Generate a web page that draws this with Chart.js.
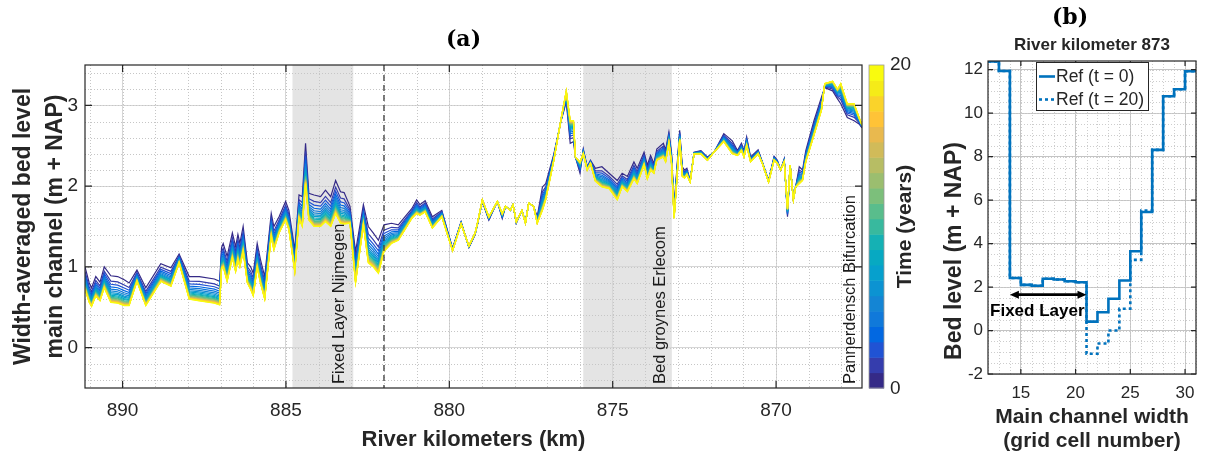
<!DOCTYPE html>
<html>
<head>
<meta charset="utf-8">
<title>Bed level development</title>
<script src="https://cdn.jsdelivr.net/npm/chart.js@4.4.1/dist/chart.umd.min.js"></script>
<style>
  html, body { margin: 0; padding: 0; background: #fff; }
  body { position: relative; width: 1205px; height: 454px; overflow: hidden; }
  #profileChart { position: absolute; left: 0; top: 0; }
  #sectionChart { position: absolute; left: 930px; top: 0; }
</style>
</head>
<body>
<canvas id="profileChart" width="930" height="454"></canvas>
<canvas id="sectionChart" width="275" height="454"></canvas>
<script>
// ---- (a) longitudinal profile ----
// stations along the river (km) with width-averaged bed level at t = 0 and t = 20 years
const riverKm = [
  891.15, 891.02, 890.95, 890.82, 890.69, 890.56, 890.36, 890.15, 889.95, 889.80,
  889.56, 889.29, 888.83, 888.52, 888.27, 887.96, 887.65, 887.19, 887.03, 886.97,
  886.92, 886.80, 886.64, 886.54, 886.47, 886.41, 886.31, 886.18, 886.08, 886.00,
  885.88, 885.78, 885.65, 885.45, 885.37, 885.21, 885.01, 884.91, 884.73, 884.60,
  884.50, 884.40, 884.30, 884.14, 883.94, 883.79, 883.63, 883.48, 883.33, 883.22,
  883.04, 882.87, 882.63, 882.48, 882.33, 882.17, 882.00, 881.77, 881.56, 881.36,
  881.15, 881.00, 880.90, 880.74, 880.52, 880.23, 879.90, 879.64, 879.40, 879.21,
  879.14, 878.99, 878.79, 878.53, 878.38, 878.28, 878.13, 878.05, 877.95, 877.78,
  877.67, 877.57, 877.42, 877.31, 877.15, 877.05, 876.80, 876.58, 876.42, 876.30,
  876.20, 876.14, 876.00, 875.90, 875.78, 875.68, 875.53, 875.33, 875.11, 874.86,
  874.71, 874.55, 874.35, 874.25, 874.04, 873.94, 873.84, 873.74, 873.65, 873.45,
  873.38, 873.28, 873.20, 873.12, 872.95, 872.87, 872.80, 872.73, 872.63, 872.51,
  872.30, 872.10, 871.90, 871.60, 871.34, 871.18, 871.06, 870.98, 870.90, 870.78,
  870.55, 870.42, 870.23, 870.06, 869.96, 869.86, 869.75, 869.65, 869.57, 869.47,
  869.40, 869.29, 869.19, 869.09, 868.84, 868.61, 868.51, 868.27, 868.12, 868.02,
  867.82, 867.61, 867.46, 867.37
];
const bedLevelT0 = [
  1.00, 0.80, 0.74, 0.88, 0.81, 1.00, 0.89, 0.88, 0.84, 0.80,
  0.96, 0.74, 1.04, 0.99, 1.16, 0.88, 0.88, 0.85, 0.82, 1.24,
  1.29, 1.13, 1.42, 1.25, 1.40, 1.29, 1.50, 1.05, 1.00, 0.92,
  1.29, 1.09, 0.88, 1.66, 1.50, 1.62, 1.81, 1.70, 1.21, 1.89,
  1.87, 2.53, 1.91, 1.89, 1.87, 1.95, 1.87, 2.07, 1.93, 1.92,
  1.75, 1.19, 1.77, 1.50, 1.42, 1.33, 1.52, 1.54, 1.52, 1.62,
  1.72, 1.83, 1.77, 1.82, 1.62, 1.70, 1.23, 1.56, 1.24, 1.40,
  1.52, 1.81, 1.58, 1.81, 1.60, 1.75, 1.70, 1.77, 1.54, 1.70,
  1.56, 1.79, 1.75, 1.62, 1.99, 2.03, 2.40, 2.81, 3.04, 2.53,
  2.55, 2.36, 2.16, 2.46, 2.24, 2.32, 2.22, 2.24, 2.16, 2.07,
  2.16, 2.12, 2.30, 2.22, 2.42, 2.26, 2.38, 2.28, 2.46, 2.53,
  2.45, 2.67, 2.42, 1.75, 2.69, 2.24, 2.20, 2.22, 2.07, 2.42,
  2.44, 2.36, 2.42, 2.65, 2.56, 2.44, 2.53, 2.44, 2.61, 2.36,
  2.45, 2.30, 2.07, 2.37, 2.32, 2.20, 2.34, 1.62, 2.26, 1.85,
  1.99, 2.24, 2.20, 2.44, 2.81, 3.10, 3.22, 3.18, 3.08, 3.02,
  2.85, 2.81, 2.77, 2.72
];
const bedLevelT20 = [
  0.72, 0.56, 0.51, 0.64, 0.58, 0.74, 0.56, 0.55, 0.52, 0.52,
  0.82, 0.52, 0.82, 0.76, 1.05, 0.60, 0.58, 0.55, 0.53, 0.98,
  1.00, 0.82, 1.11, 0.94, 1.09, 1.00, 1.19, 0.80, 0.72, 0.64,
  0.99, 0.80, 0.60, 1.38, 1.21, 1.42, 1.58, 1.46, 0.94, 1.60,
  1.50, 2.03, 1.58, 1.50, 1.50, 1.56, 1.50, 1.66, 1.54, 1.53,
  1.54, 0.80, 1.52, 1.05, 1.00, 0.92, 1.19, 1.29, 1.33, 1.46,
  1.60, 1.66, 1.64, 1.68, 1.48, 1.62, 1.20, 1.53, 1.26, 1.42,
  1.54, 1.83, 1.62, 1.81, 1.66, 1.75, 1.70, 1.77, 1.56, 1.70,
  1.54, 1.79, 1.75, 1.54, 1.70, 1.83, 2.32, 2.83, 3.18, 2.81,
  2.81, 2.36, 2.30, 2.40, 2.20, 2.28, 2.06, 1.99, 1.97, 1.83,
  1.99, 1.93, 2.09, 2.03, 2.26, 2.09, 2.20, 2.16, 2.32, 2.36,
  2.30, 2.53, 2.28, 1.60, 2.57, 2.12, 2.10, 2.14, 2.05, 2.40,
  2.40, 2.32, 2.42, 2.55, 2.40, 2.38, 2.44, 2.36, 2.50, 2.30,
  2.40, 2.28, 2.05, 2.32, 2.28, 2.20, 2.30, 1.72, 2.26, 1.83,
  1.99, 2.03, 2.07, 2.30, 2.63, 2.94, 3.27, 3.30, 3.20, 3.27,
  3.02, 3.02, 2.85, 2.76
];
// yearly profiles: 0..20 years, and where each one sits between the first and last profile
const timeYears = [0, 1, 2, 3, 4, 5, 6, 7, 8, 9, 10, 11, 12, 13, 14, 15, 16, 17, 18, 19, 20];
const yearWeight = [0, 0.2, 0.32, 0.42, 0.5, 0.57, 0.63, 0.68, 0.73, 0.77, 0.81,
                    0.84, 0.87, 0.895, 0.915, 0.935, 0.95, 0.965, 0.978, 0.99, 1];
const kmTicks = [890, 885, 880, 875, 870];
const levelTicks = [0, 1, 2, 3];
const colorbarTicks = ['0', '20'];

// ---- (b) cross-section at km 873 ----
const cellNumber = [12, 13, 14, 15, 16, 17, 18, 19, 20, 21, 22, 23, 24, 25, 26, 27, 28, 29, 30, 31];
const bedRefT0  = [12.38, 11.94, 2.42, 2.10, 2.06, 2.38, 2.35, 2.27, 2.22, 0.41, 0.84, 1.46, 2.30, 3.65, 5.45, 8.31, 10.78, 11.10, 11.93, 11.93];
const bedRefT20 = [12.38, 11.94, 2.42, 2.10, 2.06, 2.38, 2.35, 2.27, 2.22, -1.07, -0.60, 0.00, 1.00, 3.25, 5.52, 8.31, 10.78, 11.10, 11.93, 11.93];
const cellTicks = [15, 20, 25, 30];
const bedTicks = [-2, 0, 2, 4, 6, 8, 10, 12];

// parula, 21 levels
const parula21 = ['#352A87', '#353DAD', '#2053D4', '#0268E1', '#1079DA', '#1485D4', '#0C93D2',
                  '#06A0CD', '#07A9C2', '#15B1B4', '#38B99E', '#59BD8C', '#7CBF7B', '#9BBE6F',
                  '#B7BD64', '#D1BB59', '#E9B94E', '#FFC337', '#FAD32A', '#F5EB18', '#F9FB0E'];

const SANS = "'Liberation Sans', Arial, sans-serif";
const SERIF = "'DejaVu Serif', 'Liberation Serif', serif";
const INK = '#262626';

// shaded river works and the km 882 marker
const shadedZones = [
  { from: 884.80, to: 882.94 },
  { from: 875.90, to: 873.19 }
];
const zoneLabels = [
  { km: 883.23, text: 'Fixed Layer Nijmegen' },
  { km: 873.40, text: 'Bed groynes Erlecom' },
  { km: 867.59, text: 'Pannerdensch Bifurcation' }
];
const markerKm = 882;

function rotatedText(ctx, text, x, y, font, align) {
  ctx.save();
  ctx.translate(x, y);
  ctx.rotate(-Math.PI / 2);
  ctx.font = font;
  ctx.textAlign = align;
  ctx.textBaseline = 'alphabetic';
  ctx.fillText(text, 0, 0);
  ctx.restore();
}

// dotted minor grid between the major lines
function minorGrid(chart, xStep, yStep, color) {
  const { ctx, chartArea: a, scales: { x, y } } = chart;
  ctx.save();
  ctx.strokeStyle = color;
  ctx.lineWidth = 1;
  ctx.setLineDash([1, 2]);
  ctx.beginPath();
  for (let v = Math.ceil(Math.min(x.min, x.max) / xStep) * xStep; v <= Math.max(x.min, x.max); v += xStep) {
    const px = Math.round(x.getPixelForValue(v)) + 0.5;
    ctx.moveTo(px, a.top); ctx.lineTo(px, a.bottom);
  }
  for (let v = Math.ceil(y.min / yStep) * yStep; v <= y.max + 1e-9; v += yStep) {
    const py = Math.round(y.getPixelForValue(v)) + 0.5;
    ctx.moveTo(a.left, py); ctx.lineTo(a.right, py);
  }
  ctx.stroke();
  ctx.restore();
}

// black box with inward ticks, like the axes frame
function axesBox(chart, xTicks, yTicks, len) {
  const { ctx, chartArea: a, scales: { x, y } } = chart;
  ctx.save();
  ctx.strokeStyle = INK;
  ctx.lineWidth = 1.2;
  ctx.setLineDash([]);
  ctx.strokeRect(a.left, a.top, a.right - a.left, a.bottom - a.top);
  ctx.beginPath();
  xTicks.forEach(v => {
    const px = x.getPixelForValue(v);
    ctx.moveTo(px, a.bottom); ctx.lineTo(px, a.bottom - len);
    ctx.moveTo(px, a.top); ctx.lineTo(px, a.top + len);
  });
  yTicks.forEach(v => {
    const py = y.getPixelForValue(v);
    ctx.moveTo(a.left, py); ctx.lineTo(a.left + len, py);
    ctx.moveTo(a.right, py); ctx.lineTo(a.right - len, py);
  });
  ctx.stroke();
  ctx.restore();
}

const profileDecor = {
  id: 'profileDecor',
  beforeDraw(chart) {
    const { ctx, chartArea: a, scales: { x } } = chart;
    ctx.save();
    ctx.fillStyle = '#e4e4e4';
    shadedZones.forEach(z => {
      const x1 = x.getPixelForValue(z.from);
      const x2 = x.getPixelForValue(z.to);
      ctx.fillRect(Math.min(x1, x2), a.top, Math.abs(x2 - x1), a.bottom - a.top);
    });
    ctx.restore();
  },
  beforeDatasetsDraw(chart) {
    minorGrid(chart, 1, 0.2, '#c6c6c6');
  },
  afterDatasetsDraw(chart) {
    const { ctx, chartArea: a, scales: { x } } = chart;
    // km 882 marker
    ctx.save();
    ctx.strokeStyle = '#3a3a3a';
    ctx.lineWidth = 1.3;
    ctx.setLineDash([6, 4]);
    const mx = x.getPixelForValue(markerKm);
    ctx.beginPath();
    ctx.moveTo(mx, a.top); ctx.lineTo(mx, a.bottom);
    ctx.stroke();
    ctx.restore();

    ctx.fillStyle = '#1a1a1a';
    zoneLabels.forEach(l => {
      rotatedText(ctx, l.text, x.getPixelForValue(l.km), a.bottom - 4, '16.5px ' + SANS, 'left');
    });
    axesBox(chart, kmTicks, levelTicks, 7);
  },
  afterDraw(chart) {
    const { ctx, chartArea: a } = chart;
    ctx.save();
    ctx.fillStyle = '#000';
    ctx.font = 'bold 22px ' + SERIF;
    ctx.textAlign = 'center';
    ctx.textBaseline = 'middle';
    ctx.fillText('(a)', (a.left + a.right) / 2 - 10, 40);

    ctx.fillStyle = INK;
    ctx.font = 'bold 22px ' + SANS;
    ctx.textBaseline = 'alphabetic';
    ctx.fillText('River kilometers (km)', (a.left + a.right) / 2, 446);
    const midY = (a.top + a.bottom) / 2;
    rotatedText(ctx, 'Width-averaged bed level', 29.5, midY, 'bold 23px ' + SANS, 'center');
    rotatedText(ctx, 'main channel (m + NAP)', 61.5, midY, 'bold 23px ' + SANS, 'center');

    // colorbar for the yearly profiles
    const cbLeft = a.right + 7, cbWidth = 15;
    const seg = (a.bottom - a.top) / parula21.length;
    parula21.forEach((c, i) => {
      ctx.fillStyle = c;
      ctx.fillRect(cbLeft, a.bottom - (i + 1) * seg, cbWidth, seg + 0.5);
    });
    ctx.strokeStyle = '#9a9a9a';
    ctx.lineWidth = 0.8;
    ctx.strokeRect(cbLeft, a.top, cbWidth, a.bottom - a.top);
    ctx.fillStyle = INK;
    ctx.font = '19px ' + SANS;
    ctx.textAlign = 'left';
    ctx.textBaseline = 'middle';
    ctx.fillText(colorbarTicks[1], cbLeft + cbWidth + 6, a.top);
    ctx.fillText(colorbarTicks[0], cbLeft + cbWidth + 6, a.bottom + 1);
    rotatedText(ctx, 'Time (years)', 911, midY, 'bold 21px ' + SANS, 'center');
    ctx.restore();
  }
};

new Chart(document.getElementById('profileChart'), {
  type: 'line',
  data: {
    datasets: timeYears.map((t, i) => ({
      label: t + ' years',
      data: riverKm.map((km, j) => ({
        x: km,
        y: bedLevelT0[j] + yearWeight[i] * (bedLevelT20[j] - bedLevelT0[j])
      })),
      borderColor: parula21[i],
      borderWidth: 1.2,
      pointRadius: 0,
      tension: 0,
      order: timeYears.length - i
    }))
  },
  options: {
    responsive: false,
    animation: false,
    events: [],
    layout: { padding: { left: 0, top: 65, right: 68, bottom: 0 } },
    plugins: { legend: { display: false }, tooltip: { enabled: false } },
    scales: {
      x: {
        type: 'linear',
        reverse: true,
        min: 867.37,
        max: 891.15,
        afterBuildTicks: s => { s.ticks = kmTicks.map(v => ({ value: v })); },
        afterFit: s => { s.height = 66; },
        ticks: { color: INK, padding: 11, font: { family: SANS, size: 19 }, maxRotation: 0 },
        grid: { color: '#d6d6d6', drawTicks: false },
        border: { display: false }
      },
      y: {
        min: -0.5,
        max: 3.5,
        afterBuildTicks: s => { s.ticks = levelTicks.map(v => ({ value: v })); },
        afterFit: s => { s.width = 85; },
        ticks: { color: INK, padding: 7, font: { family: SANS, size: 19 } },
        grid: { color: '#d6d6d6', drawTicks: false },
        border: { display: false }
      }
    }
  },
  plugins: [profileDecor]
});

// ---- (b) ----
const sectionDecor = {
  id: 'sectionDecor',
  beforeDatasetsDraw(chart) {
    minorGrid(chart, 1, 0.5, '#cdcdcd');
  },
  afterDatasetsDraw(chart) {
    const { ctx, chartArea: a, scales: { x, y } } = chart;
    axesBox(chart, cellTicks, bedTicks, 5);

    // fixed layer extent
    const ay = y.getPixelForValue(1.65);
    const x1 = x.getPixelForValue(14), x2 = x.getPixelForValue(21);
    ctx.save();
    ctx.strokeStyle = '#000';
    ctx.fillStyle = '#000';
    ctx.lineWidth = 2.6;
    ctx.beginPath();
    ctx.moveTo(x1 + 6, ay); ctx.lineTo(x2 - 6, ay);
    ctx.stroke();
    [[x1, 1], [x2, -1]].forEach(([px, dir]) => {
      ctx.beginPath();
      ctx.moveTo(px, ay);
      ctx.lineTo(px + dir * 9, ay - 4);
      ctx.lineTo(px + dir * 9, ay + 4);
      ctx.closePath();
      ctx.fill();
    });
    ctx.font = 'bold 17px ' + SANS;
    ctx.textAlign = 'center';
    ctx.textBaseline = 'middle';
    ctx.fillText('Fixed Layer', x.getPixelForValue(16.5), y.getPixelForValue(0.9));

    // legend
    const lx = 106, ly = 62, lw = 112, lh = 48;
    ctx.fillStyle = '#fff';
    ctx.fillRect(lx, ly, lw, lh);
    ctx.strokeStyle = '#262626';
    ctx.lineWidth = 1;
    ctx.strokeRect(lx + 0.5, ly + 0.5, lw, lh);
    chart.data.datasets.forEach((ds, i) => {
      const ry = ly + 14.5 + i * 23;
      ctx.strokeStyle = ds.borderColor;
      ctx.lineWidth = ds.borderWidth;
      ctx.setLineDash(ds.borderDash || []);
      ctx.beginPath();
      ctx.moveTo(lx + 3, ry); ctx.lineTo(lx + 19, ry);
      ctx.stroke();
      ctx.setLineDash([]);
      ctx.fillStyle = INK;
      ctx.font = '17.5px ' + SANS;
      ctx.textAlign = 'left';
      ctx.fillText(ds.label, lx + 20, ry + 1);
    });
    ctx.restore();
  },
  afterDraw(chart) {
    const { ctx, chartArea: a } = chart;
    ctx.save();
    ctx.fillStyle = '#000';
    ctx.font = 'bold 22px ' + SERIF;
    ctx.textAlign = 'center';
    ctx.textBaseline = 'middle';
    ctx.fillText('(b)', 140, 18);
    ctx.fillStyle = INK;
    ctx.font = 'bold 17px ' + SANS;
    ctx.fillText('River kilometer 873', (a.left + a.right) / 2, 45);
    ctx.font = 'bold 21px ' + SANS;
    ctx.textBaseline = 'alphabetic';
    ctx.fillText('Main channel width', (a.left + a.right) / 2, 423);
    ctx.fillText('(grid cell number)', (a.left + a.right) / 2, 447);
    rotatedText(ctx, 'Bed level (m + NAP)', 31, 251, 'bold 23px ' + SANS, 'center');
    ctx.restore();
  }
};

new Chart(document.getElementById('sectionChart'), {
  type: 'line',
  data: {
    datasets: [
      {
        label: 'Ref (t = 0)',
        data: cellNumber.map((c, i) => ({ x: c, y: bedRefT0[i] })),
        borderColor: '#0072BD',
        borderWidth: 2.6,
        pointRadius: 0,
        stepped: 'before'
      },
      {
        label: 'Ref (t = 20)',
        data: cellNumber.map((c, i) => ({ x: c, y: bedRefT20[i] })),
        borderColor: '#0072BD',
        borderWidth: 2.6,
        borderDash: [3, 3],
        pointRadius: 0,
        stepped: 'before'
      }
    ]
  },
  options: {
    responsive: false,
    animation: false,
    events: [],
    layout: { padding: { left: 0, top: 61, right: 9, bottom: 0 } },
    plugins: { legend: { display: false }, tooltip: { enabled: false } },
    scales: {
      x: {
        type: 'linear',
        min: 12,
        max: 31,
        afterBuildTicks: s => { s.ticks = cellTicks.map(v => ({ value: v })); },
        afterFit: s => { s.height = 80; },
        ticks: { color: INK, padding: 9, font: { family: SANS, size: 17 }, maxRotation: 0 },
        grid: { color: '#c4c4c4', drawTicks: false },
        border: { display: false }
      },
      y: {
        min: -2,
        max: 12.4,
        afterBuildTicks: s => { s.ticks = bedTicks.map(v => ({ value: v })); },
        afterFit: s => { s.width = 58; },
        ticks: { color: INK, padding: 5, font: { family: SANS, size: 17 } },
        grid: { color: '#c4c4c4', drawTicks: false },
        border: { display: false }
      }
    }
  },
  plugins: [sectionDecor]
});
</script>
</body>
</html>
